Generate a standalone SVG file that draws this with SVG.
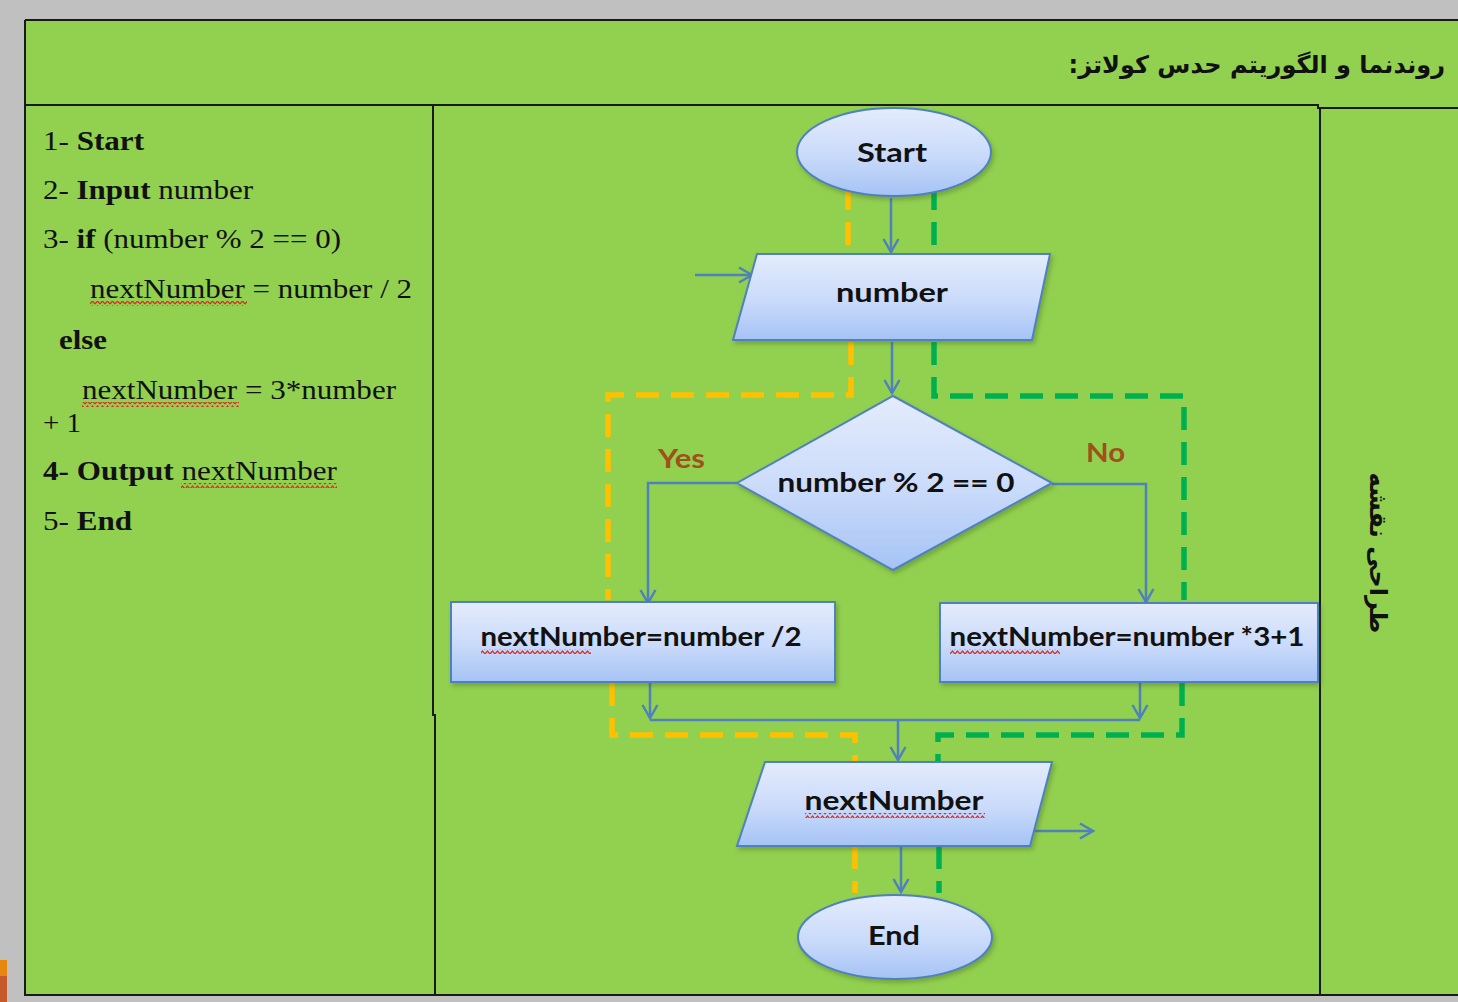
<svg xmlns="http://www.w3.org/2000/svg" width="1458" height="1002" viewBox="0 0 1458 1002">
  <style>
    .frame { fill: none; stroke: #1a1a1a; stroke-width: 2; }
    .node { stroke: #4f81bd; stroke-width: 2; fill: url(#nodeFill); filter: url(#shadow); }
    .label { font-family: Lato, "Open Sans", sans-serif; font-weight: 700; font-size: 27px; fill: #111; text-anchor: middle; }
    .branch { font-family: Lato, "Open Sans", sans-serif; font-weight: 700; font-size: 26px; fill: #a0501a; }
    .flow { fill: none; stroke: #4f81bd; stroke-width: 2.5; }
    .arrow { marker-end: url(#open); }
    .yes { fill: none; stroke: #ffc000; stroke-width: 5.5; stroke-dasharray: 23 12; }
    .no { fill: none; stroke: #00b050; stroke-width: 5.5; stroke-dasharray: 23 12; }
    .algo { font-family: "Liberation Serif", "Times New Roman", serif; font-size: 28px; fill: #111; }
    .algo .b { font-weight: 700; }
    .fa { font-family: "DejaVu Sans", "Noto Sans", sans-serif; font-weight: 700; font-size: 24px; fill: #111; }
  </style>
  <defs>
    <linearGradient id="nodeFill" x1="0" y1="0" x2="0" y2="1">
      <stop offset="0" stop-color="#e4ecfc"/>
      <stop offset="0.55" stop-color="#c9dafa"/>
      <stop offset="1" stop-color="#a5c3f5"/>
    </linearGradient>
    <filter id="shadow" x="-10%" y="-10%" width="125%" height="130%">
      <feDropShadow dx="2" dy="3" stdDeviation="2" flood-color="#3a5a1a" flood-opacity="0.35"/>
    </filter>
    <marker id="open" markerUnits="userSpaceOnUse" markerWidth="20" markerHeight="20" refX="15" refY="9" orient="auto">
      <path d="M2,1.5 L15,9 L2,16.5" fill="none" stroke="#4f81bd" stroke-width="2.5"/>
    </marker>
    <pattern id="wave" width="5" height="5" patternUnits="userSpaceOnUse">
      <path d="M0,4 L2.5,1 L5,4" fill="none" stroke="#d6302a" stroke-width="1.2"/>
    </pattern>
  </defs>

  <!-- page background and table -->
  <rect x="0" y="0" width="1458" height="1002" fill="#c0c0c0"/>
  <rect x="0" y="960" width="7" height="16" fill="#e8870f"/>
  <rect x="0" y="976" width="7" height="26" fill="#c55a2b"/>
  <rect x="25" y="20" width="1433" height="975" fill="#92d050"/>
  <g id="table">
    <path class="frame" d="M25,20 H1458 M25,20 V995 H1458"/>
    <path class="frame" d="M25,105 H1318 V108 H1458"/>
    <path class="frame" d="M433,105 V715 H435 V995"/>
    <path class="frame" d="M1320,108 V995"/>
  </g>

  <!-- headings -->
  <text class="fa" x="1445" y="73" direction="rtl" text-anchor="start">روندنما و الگوریتم حدس کولاتز:</text>
  <text class="fa" x="0" y="0" text-anchor="middle" transform="translate(1370,553) rotate(90)">طراحی نقشه</text>

  <!-- algorithm steps -->
  <g id="algorithm" class="algo">
    <text x="43" y="150" textLength="101" lengthAdjust="spacingAndGlyphs">1- <tspan class="b">Start</tspan></text>
    <text x="43" y="199" textLength="210" lengthAdjust="spacingAndGlyphs">2- <tspan class="b">Input</tspan> number</text>
    <text x="43" y="248" textLength="298" lengthAdjust="spacingAndGlyphs">3- <tspan class="b">if</tspan> (number % 2 == 0)</text>
    <text x="90" y="298" textLength="322" lengthAdjust="spacingAndGlyphs">nextNumber = number / 2</text>
    <text x="59" y="349" textLength="48" lengthAdjust="spacingAndGlyphs" class="b" font-weight="700">else</text>
    <text x="82" y="399" textLength="314" lengthAdjust="spacingAndGlyphs">nextNumber = 3*number</text>
    <text x="43" y="432" textLength="38" lengthAdjust="spacingAndGlyphs">+ 1</text>
    <text x="43" y="480" textLength="294" lengthAdjust="spacingAndGlyphs"><tspan class="b">4- Output</tspan> nextNumber</text>
    <text x="43" y="530" textLength="89" lengthAdjust="spacingAndGlyphs">5- <tspan class="b">End</tspan></text>
    <rect x="90" y="301" width="157" height="5" fill="url(#wave)"/>
    <rect x="82" y="402" width="157" height="5" fill="url(#wave)"/>
    <rect x="181" y="483" width="156" height="5" fill="url(#wave)"/>
  </g>

  <!-- connectors -->
  <g id="connectors">
    <path class="yes" d="M848,187 V250"/>
    <path class="yes" d="M851,342 V395 H608 V600"/>
    <path class="yes" d="M612,683 V735 H855 V762"/>
    <path class="yes" d="M855,846 V893"/>
    <path class="no" d="M934,187 V250"/>
    <path class="no" d="M934,342 V396 H1184 V600"/>
    <path class="no" d="M1182,683 V735 H938 V762"/>
    <path class="no" d="M939,846 V893"/>

    <path class="flow arrow" d="M891,198 V252"/>
    <path class="flow arrow" d="M695,275 H752"/>
    <path class="flow arrow" d="M892,342 V393"/>
    <path class="flow arrow" d="M737,483 H648 V603"/>
    <path class="flow arrow" d="M1052,484 H1146 V602"/>
    <path class="flow arrow" d="M650,683 V718"/>
    <path class="flow arrow" d="M1140,683 V718"/>
    <path class="flow" d="M650,720 H1140"/>
    <path class="flow arrow" d="M898,720 V760"/>
    <path class="flow arrow" d="M901,847 V892"/>
    <path class="flow arrow" d="M1032,831 H1093"/>
  </g>

  <!-- flowchart nodes -->
  <g id="start">
    <ellipse class="node" cx="894" cy="152" rx="97" ry="44"/>
    <text class="label" x="892" y="162" textLength="70" lengthAdjust="spacingAndGlyphs">Start</text>
  </g>
  <g id="input-number">
    <polygon class="node" points="757,254 1050,254 1032,340 733,340"/>
    <text class="label" x="892" y="302" textLength="112" lengthAdjust="spacingAndGlyphs">number</text>
  </g>
  <g id="decision">
    <polygon class="node" points="893,396 1052,483 893,570 737,483"/>
    <text class="label" x="896" y="492" textLength="237" lengthAdjust="spacingAndGlyphs">number % 2 == 0</text>
    <text class="branch" x="658" y="468" textLength="47" lengthAdjust="spacingAndGlyphs">Yes</text>
    <text class="branch" x="1086" y="462" textLength="39" lengthAdjust="spacingAndGlyphs">No</text>
  </g>
  <g id="even-step">
    <rect class="node" x="451" y="602" width="384" height="80"/>
    <text class="label" x="641" y="646" textLength="321" lengthAdjust="spacingAndGlyphs">nextNumber=number /2</text>
    <rect x="481" y="649" width="110" height="5" fill="url(#wave)"/>
  </g>
  <g id="odd-step">
    <rect class="node" x="940" y="603" width="378" height="79"/>
    <text class="label" x="1127" y="646" textLength="355" lengthAdjust="spacingAndGlyphs">nextNumber=number *3+1</text>
    <rect x="950" y="649" width="110" height="5" fill="url(#wave)"/>
  </g>
  <g id="output">
    <polygon class="node" points="765,762 1052,762 1030,846 737,846"/>
    <text class="label" x="894" y="810" textLength="179" lengthAdjust="spacingAndGlyphs">nextNumber</text>
    <rect x="805" y="813" width="180" height="5" fill="url(#wave)"/>
  </g>
  <g id="end">
    <ellipse class="node" cx="895" cy="937" rx="97" ry="42"/>
    <text class="label" x="894" y="945" textLength="52" lengthAdjust="spacingAndGlyphs">End</text>
  </g>
</svg>
